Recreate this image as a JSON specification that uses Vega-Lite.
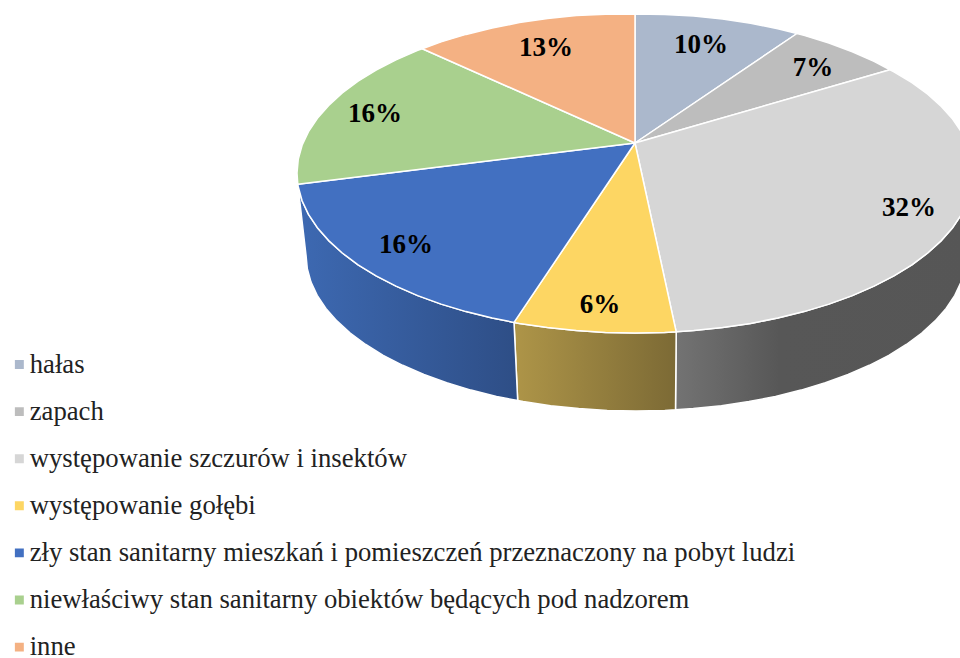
{
"$schema":"https://vega.github.io/schema/vega-lite/v6.json",
"width":960,"height":658,"padding":0,
"autosize":{"type":"fit","contains":"padding"},
"background":"white",
"view":{"stroke":null},
"datasets":{
"slices":[
{"k":"a","name":"hałas","value":10,"label":"10%","lx":701,"ly":45},
{"k":"b","name":"zapach","value":7,"label":"7%","lx":813,"ly":68},
{"k":"c","name":"występowanie szczurów i insektów","value":32,"label":"32%","lx":909,"ly":208},
{"k":"d","name":"występowanie gołębi","value":6,"label":"6%","lx":600,"ly":305},
{"k":"e","name":"zły stan sanitarny mieszkań i pomieszczeń przeznaczony na pobyt ludzi","value":16,"label":"16%","lx":406,"ly":245},
{"k":"f","name":"niewłaściwy stan sanitarny obiektów będących pod nadzorem","value":16,"label":"16%","lx":375,"ly":114},
{"k":"g","name":"inne","value":13,"label":"13%","lx":546,"ly":48}
],
"outline":[
{"k":"a","x":635,"y":143},{"k":"a","x":635,"y":14},{"k":"a","x":664.5,"y":14.4},{"k":"a","x":693.7,"y":16},{"k":"a","x":722.5,"y":19},{"k":"a","x":750.6,"y":23.2},{"k":"a","x":777.8,"y":28.8},{"k":"a","x":797,"y":33.5},{"k":"a","x":635,"y":143},
{"k":"b","x":635,"y":143},{"k":"b","x":797,"y":33.5},{"k":"b","x":804,"y":35.4},{"k":"b","x":828.9,"y":43},{"k":"b","x":852.3,"y":51.8},{"k":"b","x":874,"y":61.4},{"k":"b","x":890,"y":69.8},{"k":"b","x":635,"y":143},
{"k":"c","x":635,"y":143},{"k":"c","x":890,"y":69.8},{"k":"c","x":893.9,"y":71.8},{"k":"c","x":911.9,"y":82.6},{"k":"c","x":927.7,"y":94.2},{"k":"c","x":941.3,"y":106.4},{"k":"c","x":952.6,"y":119},{"k":"c","x":961.5,"y":132},{"k":"c","x":967.9,"y":145.4},{"k":"c","x":971.7,"y":159},{"k":"c","x":973,"y":173},{"k":"c","x":971.7,"y":187},{"k":"c","x":967.9,"y":200.8},{"k":"c","x":961.5,"y":214.4},{"k":"c","x":952.6,"y":227.7},{"k":"c","x":941.3,"y":240.6},{"k":"c","x":927.7,"y":253},{"k":"c","x":911.9,"y":264.8},{"k":"c","x":893.9,"y":275.8},{"k":"c","x":874,"y":286.1},{"k":"c","x":852.3,"y":295.6},{"k":"c","x":828.9,"y":304.1},{"k":"c","x":804,"y":311.6},{"k":"c","x":777.8,"y":318},{"k":"c","x":750.6,"y":323.4},{"k":"c","x":722.5,"y":327.5},{"k":"c","x":693.7,"y":330.6},{"k":"c","x":676.2,"y":331.8},{"k":"c","x":635,"y":143},
{"k":"d","x":635,"y":143},{"k":"d","x":676.2,"y":331.8},{"k":"d","x":664.5,"y":332.4},{"k":"d","x":635,"y":333},{"k":"d","x":605.5,"y":332.4},{"k":"d","x":576.3,"y":330.6},{"k":"d","x":547.5,"y":327.5},{"k":"d","x":519.4,"y":323.4},{"k":"d","x":514,"y":322.4},{"k":"d","x":635,"y":143},
{"k":"e","x":635,"y":143},{"k":"e","x":514,"y":322.4},{"k":"e","x":492.2,"y":318},{"k":"e","x":466,"y":311.6},{"k":"e","x":441.1,"y":304.1},{"k":"e","x":417.7,"y":295.6},{"k":"e","x":396,"y":286.1},{"k":"e","x":376.1,"y":275.8},{"k":"e","x":358.1,"y":264.8},{"k":"e","x":342.3,"y":253},{"k":"e","x":328.7,"y":240.6},{"k":"e","x":317.4,"y":227.7},{"k":"e","x":308.5,"y":214.4},{"k":"e","x":302.1,"y":200.8},{"k":"e","x":298.3,"y":187},{"k":"e","x":297.8,"y":184.2},{"k":"e","x":635,"y":143},
{"k":"f","x":635,"y":143},{"k":"f","x":297.8,"y":184.2},{"k":"f","x":297,"y":173},{"k":"f","x":298.3,"y":159},{"k":"f","x":302.1,"y":145.2},{"k":"f","x":308.5,"y":131.6},{"k":"f","x":317.4,"y":118.3},{"k":"f","x":328.7,"y":105.4},{"k":"f","x":342.3,"y":93},{"k":"f","x":358.1,"y":81.2},{"k":"f","x":376.1,"y":70.2},{"k":"f","x":396,"y":59.9},{"k":"f","x":417.7,"y":50.4},{"k":"f","x":422.3,"y":48.7},{"k":"f","x":635,"y":143},
{"k":"g","x":635,"y":143},{"k":"g","x":422.3,"y":48.7},{"k":"g","x":441.1,"y":41.9},{"k":"g","x":466,"y":34.4},{"k":"g","x":492.2,"y":28},{"k":"g","x":519.4,"y":22.6},{"k":"g","x":547.5,"y":18.5},{"k":"g","x":576.3,"y":15.6},{"k":"g","x":605.5,"y":14.2},{"k":"g","x":635,"y":14},{"k":"g","x":635,"y":143}
],
"wallC":[
{"x":973,"y":173},{"x":971.7,"y":187},{"x":967.9,"y":200.8},{"x":961.5,"y":214.4},{"x":952.6,"y":227.7},{"x":941.3,"y":240.6},{"x":927.7,"y":253},{"x":911.9,"y":264.8},{"x":893.9,"y":275.8},{"x":874,"y":286.1},{"x":852.3,"y":295.6},{"x":828.9,"y":304.1},{"x":804,"y":311.6},{"x":777.8,"y":318},{"x":750.6,"y":323.4},{"x":722.5,"y":327.5},{"x":693.7,"y":330.6},{"x":676.2,"y":331.8},
{"x":675.5,"y":409.8},{"x":693.3,"y":408.6},{"x":721.4,"y":405.7},{"x":748.9,"y":401.6},{"x":775.5,"y":396.4},{"x":801,"y":390.1},{"x":825.3,"y":382.8},{"x":848.1,"y":374.5},{"x":869.3,"y":365.3},{"x":888.8,"y":355.3},{"x":906.3,"y":344.5},{"x":921.8,"y":333},{"x":935.1,"y":320.9},{"x":946.1,"y":308.4},{"x":954.8,"y":295.4},{"x":961,"y":282.1},{"x":964.7,"y":268.6},{"x":966,"y":255},{"x":973,"y":173}
],
"wallD":[
{"x":676.2,"y":331.8},{"x":664.5,"y":332.4},{"x":635,"y":333},{"x":605.5,"y":332.4},{"x":576.3,"y":330.6},{"x":547.5,"y":327.5},{"x":519.4,"y":323.4},{"x":514,"y":322.4},
{"x":517.7,"y":400.6},{"x":523.1,"y":401.6},{"x":550.6,"y":405.7},{"x":578.7,"y":408.6},{"x":607.2,"y":410.4},{"x":636,"y":411},{"x":664.8,"y":410.4},{"x":675.5,"y":409.8},{"x":676.2,"y":331.8}
],
"wallE":[
{"x":514,"y":322.4},{"x":492.2,"y":318},{"x":466,"y":311.6},{"x":441.1,"y":304.1},{"x":417.7,"y":295.6},{"x":396,"y":286.1},{"x":376.1,"y":275.8},{"x":358.1,"y":264.8},{"x":342.3,"y":253},{"x":328.7,"y":240.6},{"x":317.4,"y":227.7},{"x":308.5,"y":214.4},{"x":302.1,"y":200.8},{"x":298.3,"y":187},{"x":297.8,"y":184.2},
{"x":306,"y":255},{"x":307.3,"y":268.6},{"x":311,"y":282.1},{"x":317.2,"y":295.4},{"x":325.9,"y":308.4},{"x":336.9,"y":320.9},{"x":350.2,"y":333},{"x":365.7,"y":344.5},{"x":383.2,"y":355.3},{"x":402.7,"y":365.3},{"x":423.9,"y":374.5},{"x":446.7,"y":382.8},{"x":471,"y":390.1},{"x":496.5,"y":396.4},{"x":517.7,"y":400.6},{"x":514,"y":322.4}
]
},
"encoding":{
"x":{"field":"x","type":"quantitative","axis":null,"scale":{"domain":[0,960],"nice":false,"zero":false}},
"y":{"field":"y","type":"quantitative","axis":null,"scale":{"domain":[658,0],"nice":false,"zero":false}}
},
"layer":[
{"data":{"name":"wallC"},
"transform":[{"window":[{"op":"row_number","as":"o"}]}],
"mark":{"type":"line","clip":true,"stroke":"white","strokeWidth":1.5,"fill":{"gradient":"linear","x1":0,"x2":1,"y1":0,"y2":0,"stops":[{"offset":0,"color":"#737373"},{"offset":0.35,"color":"#575757"},{"offset":1,"color":"#565656"}]}},
"encoding":{"order":{"field":"o","type":"quantitative"}}},
{"data":{"name":"wallD"},
"transform":[{"window":[{"op":"row_number","as":"o"}]}],
"mark":{"type":"line","clip":true,"stroke":"white","strokeWidth":1.5,"fill":{"gradient":"linear","x1":0,"x2":1,"y1":0,"y2":0,"stops":[{"offset":0,"color":"#AE9548"},{"offset":1,"color":"#7C6A35"}]}},
"encoding":{"order":{"field":"o","type":"quantitative"}}},
{"data":{"name":"wallE"},
"transform":[{"window":[{"op":"row_number","as":"o"}]}],
"mark":{"type":"line","clip":true,"stroke":"white","strokeWidth":1.5,"fill":{"gradient":"linear","x1":0,"x2":1,"y1":0,"y2":0,"stops":[{"offset":0,"color":"#3D69B2"},{"offset":1,"color":"#2E4E86"}]}},
"encoding":{"order":{"field":"o","type":"quantitative"}}},
{"data":{"name":"outline"},
"transform":[{"window":[{"op":"row_number","as":"o"}]},{"lookup":"k","from":{"data":{"name":"slices"},"key":"k","fields":["name"]}}],
"mark":{"type":"line","clip":true,"stroke":"white","strokeWidth":1.5,"strokeJoin":"round"},
"encoding":{"order":{"field":"o","type":"quantitative"},
"fill":{"field":"name","type":"nominal","scale":{
"domain":["hałas","zapach","występowanie szczurów i insektów","występowanie gołębi","zły stan sanitarny mieszkań i pomieszczeń przeznaczony na pobyt ludzi","niewłaściwy stan sanitarny obiektów będących pod nadzorem","inne"],
"range":["#ABB8CC","#BDBDBD","#D6D6D6","#FDD663","#4270C1","#A9D08E","#F4B183"]},
"legend":{"title":null,"orient":"none","legendX":6,"legendY":352.5,"symbolType":"square","symbolSize":80,"symbolStrokeWidth":0,"labelFont":"Liberation Serif","labelFontSize":26.7,"labelColor":"#222222","labelLimit":900,"rowPadding":20.1,"labelOffset":-3,"clipHeight":24}}}},
{"data":{"name":"slices"},
"mark":{"type":"text","font":"Liberation Serif","fontWeight":"bold","fontSize":27,"color":"#000000","align":"center","baseline":"middle"},
"encoding":{"x":{"field":"lx","type":"quantitative"},"y":{"field":"ly","type":"quantitative"},"text":{"field":"label"}}}
]
}
